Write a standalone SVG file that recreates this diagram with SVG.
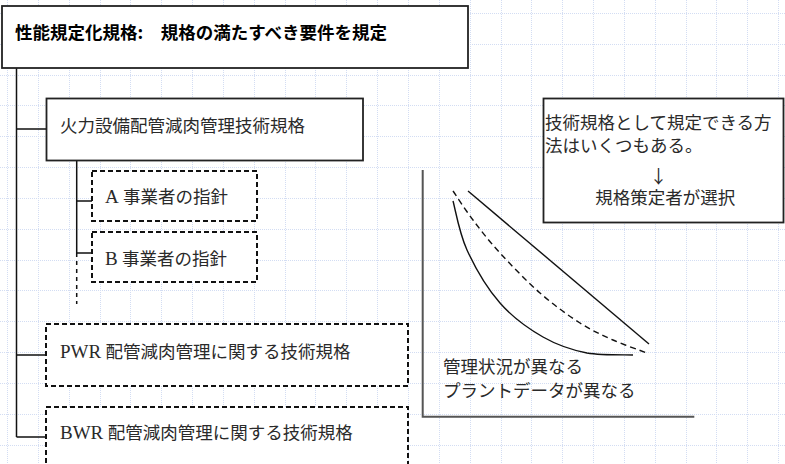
<svg xmlns="http://www.w3.org/2000/svg" width="785" height="464" viewBox="0 0 785 464">
<defs>
<style>
.grid{stroke:#d3ddf3;stroke-width:1;stroke-dasharray:1,1;fill:none}
.box{fill:#fff;stroke:#222;stroke-width:1.8}
.dbox{fill:#fff;stroke:#111;stroke-width:2;stroke-dasharray:5,3}
.conn{stroke:#111;stroke-width:1.5;fill:none}
.t{font-family:"Liberation Serif","Noto Sans CJK JP",serif;font-size:17.5px;fill:#2a2a2a}
.lat{font-size:19px}
.title{font-family:"Noto Sans CJK JP",sans-serif;font-size:17.5px;font-weight:bold;fill:#000}
.axis{stroke:#555;stroke-width:2;fill:none}
.curve{stroke:#111;stroke-width:1.4;fill:none}
</style>
</defs>
<rect width="785" height="464" fill="#fff"/>
<g id="grid">
<path class="grid" d="M7.5,0V464M38.5,0V464M69.5,0V464M100.5,0V464M130.5,0V464M161.5,0V464M192.5,0V464M223.5,0V464M254.5,0V464M285.5,0V464M315.5,0V464M346.5,0V464M377.5,0V464M408.5,0V464M439.5,0V464M470.5,0V464M501.5,0V464M531.5,0V464M562.5,0V464M593.5,0V464M624.5,0V464M655.5,0V464M686.5,0V464M716.5,0V464M747.5,0V464M778.5,0V464"/>
<path class="grid" d="M0,13.5H785M0,44.5H785M0,75.5H785M0,105.5H785M0,136.5H785M0,167.5H785M0,198.5H785M0,229.5H785M0,260.5H785M0,290.5H785M0,321.5H785M0,352.5H785M0,383.5H785M0,414.5H785M0,445.5H785"/>
</g>
<g id="connectors">
<path class="conn" d="M16.5,68V437M16.5,129H46.5M16.5,355H46M16.5,437H46"/>
<path class="conn" d="M76.7,160V253M76.7,201H92M76.7,253H92"/>
<path class="conn" d="M76.7,253V304" stroke-dasharray="4,4"/>
</g>
<g id="node-title">
<rect class="box" x="2" y="6" width="466" height="62"/>
<text class="title" x="15" y="39">性能規定化規格:　規格の満たすべき要件を規定</text>
</g>
<g id="node-thermal">
<rect class="box" x="46.5" y="98.5" width="316.5" height="62"/>
<text class="t" x="60" y="132">火力設備配管減肉管理技術規格</text>
</g>
<g id="node-a">
<rect class="dbox" x="92" y="171" width="165" height="50"/>
<text class="t" x="105" y="203"><tspan class="lat">A</tspan> 事業者の指針</text>
</g>
<g id="node-b">
<rect class="dbox" x="92" y="232" width="165" height="50"/>
<text class="t" x="105" y="265"><tspan class="lat">B</tspan> 事業者の指針</text>
</g>
<g id="node-pwr">
<rect class="dbox" x="46" y="324" width="362" height="62"/>
<text class="t" x="60" y="357.5"><tspan class="lat">PWR</tspan> 配管減肉管理に関する技術規格</text>
</g>
<g id="node-bwr">
<rect class="dbox" x="46" y="407" width="362" height="70"/>
<text class="t" x="60" y="439"><tspan class="lat">BWR</tspan> 配管減肉管理に関する技術規格</text>
</g>
<g id="node-note">
<rect class="box" x="543.5" y="98.5" width="240" height="124" fill="none"/>
<text class="t" x="545" y="128.5" font-size="18">技術規格として規定できる方</text>
<text class="t" x="545" y="151.5" font-size="18">法はいくつもある。</text>
<text x="658.5" y="183" font-family="Noto Sans CJK JP, sans-serif" font-size="18" fill="#2a2a2a" text-anchor="middle">↓</text>
<text class="t" x="665.3" y="204" font-size="18" text-anchor="middle">規格策定者が選択</text>
</g>
<g id="chart">
<path class="axis" d="M422.7,170V416.7H694.3"/>
<path class="curve" d="M468,191L649,344"/>
<path class="curve" stroke-dasharray="6,4" d="M453,191C456.3,195.8 465.2,209.7 473,220C480.8,230.3 488.8,240.8 500,253C511.2,265.2 526.7,281.3 540,293C553.3,304.7 567.8,315.2 580,323C592.2,330.8 601.8,335 613,340C624.2,345 641.3,350.8 647,353"/>
<path class="curve" d="M453,201C455.3,209.2 459.2,233 467,250C474.8,267 487.3,288.5 500,303C512.7,317.5 528.5,328.7 543,337C557.5,345.3 572,350 587,353C602,355.5 625.3,354.7 633,355"/>
<text class="t" x="443" y="373">管理状況が異なる</text>
<text class="t" x="443" y="397">プラントデータが異なる</text>
</g>
</svg>
